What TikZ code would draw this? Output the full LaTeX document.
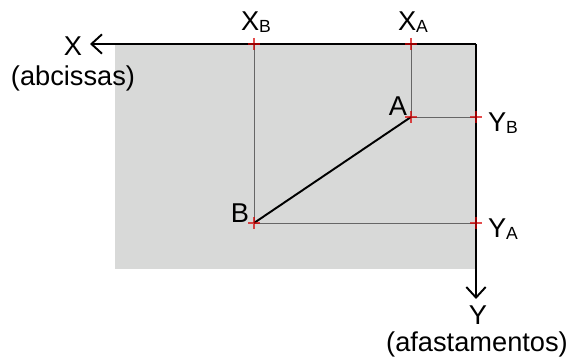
\documentclass[tikz,border=0pt]{standalone}
\usepackage{fontspec}
\setmainfont{Liberation Sans}
\usetikzlibrary{arrows.meta}
\definecolor{planegray}{HTML}{D8D9D8}
\tikzset{guide/.style={draw=black!60,line width=0.5pt},
	redmark/.style={draw=red!85!black,opacity=0.7,line width=0.7pt},
	axis/.style={draw=black,line width=1.1pt,-{Straight Barb[length=6pt,width=11pt,line width=1.1pt]}},
	lbl/.style={font=\fontsize{15.5}{17}\selectfont,inner sep=0pt}}
\newcommand{\sub}[1]{\raisebox{-0.15ex}{\fontsize{10}{11}\selectfont #1}}
\begin{document}
\begin{tikzpicture}[x=0.02cm,y=-0.02cm]
			\useasboundingbox (0,0) rectangle (568,364);
			\coordinate (O) at (476,44);\coordinate (Xtip) at (90,44);\coordinate (Ytip) at (476,299);
			\coordinate (XA) at (411,44);\coordinate (XB) at (254,44);
			\coordinate (A) at (411,117);\coordinate (B) at (254,223);
			\coordinate (YB) at (476,117);\coordinate (YA) at (476,223);
			\fill[planegray] (115,44) rectangle (476,269);
			\draw[guide] (XB)--(B)--(YA); \draw[guide] (XA)--(A)--(YB);
			\draw[line width=1.1pt] (A)--(B);
			\draw[axis] (O)--(Xtip); \draw[axis] (O)--(Ytip);
			\foreach \p in {XA,XB,A,B,YA,YB} \draw[redmark] (\p) ++(-6,0)--++(12,0) (\p) ++(0,-6)--++(0,12);
			\node[lbl] (lX) at (73,46) {X};\node[lbl] (lXname) at (73,78) {(abcissas)};
			\node[lbl] (lY) at (478,315) {Y};\node[lbl] (lYname) at (477,344) {(afastamentos)};
			\node[lbl] (lXB) at (256,22) {X\sub{B}};\node[lbl] (lXA) at (413,22) {X\sub{A}};
			\node[lbl] (lYB) at (503,123) {Y\sub{B}};\node[lbl] (lYA) at (503,229) {Y\sub{A}};
			\node[lbl] (lA) at (398,106) {A};\node[lbl] (lB) at (240,213) {B};
			\end{tikzpicture}
\end{document}
